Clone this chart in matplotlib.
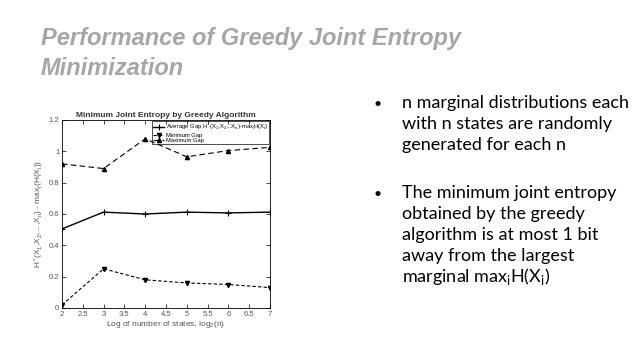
import numpy as np
import matplotlib
matplotlib.use("Agg")
import matplotlib.pyplot as plt

# data
log_n = [2, 3, 4, 5, 6, 7]
avg_gap = [0.505, 0.612, 0.600, 0.612, 0.607, 0.612]
min_gap = [0.020, 0.250, 0.180, 0.160, 0.150, 0.130]
max_gap = [0.920, 0.890, 1.080, 0.965, 1.005, 1.025]
xticks = [2, 2.5, 3, 3.5, 4, 4.5, 5, 5.5, 6, 6.5, 7]
yticks = [0, 0.2, 0.4, 0.6, 0.8, 1, 1.2]

title_lines = ["Performance of Greedy Joint Entropy", "Minimization"]
bullets = [
    ["n marginal distributions each", "with n states are randomly", "generated for each n"],
    ["The minimum joint entropy", "obtained by the greedy", "algorithm is at most 1 bit",
     "away from the largest", r"marginal max$_\mathregular{i}$H(X$_\mathregular{i}$)"],
]

W, H = 638, 359
fig = plt.figure(figsize=(W / 100, H / 100), dpi=100)
fig.patch.set_facecolor("white")
plt.rcParams["mathtext.fontset"] = "custom"
plt.rcParams["mathtext.rm"] = "Liberation Sans"
plt.rcParams["mathtext.it"] = "Liberation Sans"

# slide title
for k, line in enumerate(title_lines):
    fig.text(41 / W, 1 - (45 + 30 * k) / H, line, fontsize=17, fontweight="bold",
             fontstyle="italic", family="Liberation Sans", color="#a6a6a6",
             ha="left", va="baseline")

# bullets on the right
y = 108
for group in bullets:
    fig.text(378 / W, 1 - y / H, "•", fontsize=10, family="Lato", color="black",
             ha="center", va="baseline")
    for line in group:
        fig.text(402 / W, 1 - y / H, line, fontsize=13, family="Lato", color="black",
                 ha="left", va="baseline")
        y += 21
    y += 27

# the chart
chart_font = "Liberation Sans"
ax = fig.add_axes([62 / W, 1 - 308 / H, (270 - 62) / W, (308 - 120) / H])
ax.plot(log_n, avg_gap, "-", marker="+", color="black", lw=1.0, ms=4, mew=0.8,
        label=r"Average Gap H$^*$(X$_1$,X$_2$,..X$_n$)-max$_i$H(X$_i$)")
ax.plot(log_n, min_gap, linestyle=(0, (3, 2)), marker="v", color="black", lw=0.8, ms=3,
        label="Minimum Gap")
ax.plot(log_n, max_gap, linestyle=(0, (5, 3)), marker="^", color="black", lw=0.8, ms=3,
        label="Maximum Gap")

ax.set_xlim(2, 7)
ax.set_ylim(0, 1.2)
ax.set_xticks(xticks)
ax.set_xticklabels(["%g" % t for t in xticks], family=chart_font)
ax.set_yticks(yticks)
ax.set_yticklabels(["%g" % t for t in yticks], family=chart_font)
ax.tick_params(direction="in", top=True, right=True, length=3, width=0.5,
               labelsize=5.5, labelcolor="#555555", pad=2)
for s in ax.spines.values():
    s.set_linewidth(0.6)

ax.set_title("Minimum Joint Entropy by Greedy Algorithm", fontsize=6,
             fontweight="bold", color="#333333", pad=2, family=chart_font)
ax.set_xlabel(r"Log of number of states, log$_2$(n)", fontsize=6, color="#555555",
              labelpad=1, family=chart_font)
ax.set_ylabel(r"H$^*$(X$_1$,X$_2$,...,X$_n$) - max$_i$(H(X$_i$))", fontsize=6,
              color="#555555", labelpad=2, family=chart_font)

leg = ax.legend(loc="upper right", frameon=True, fancybox=False,
                edgecolor="black", facecolor="none", framealpha=None,
                borderpad=0.2, labelspacing=0.05, handlelength=1.8,
                handletextpad=0.3, borderaxespad=0.15,
                prop={"family": chart_font, "size": 4.2})
leg.get_frame().set_linewidth(0.6)

fig.savefig("out.png", dpi=100)
